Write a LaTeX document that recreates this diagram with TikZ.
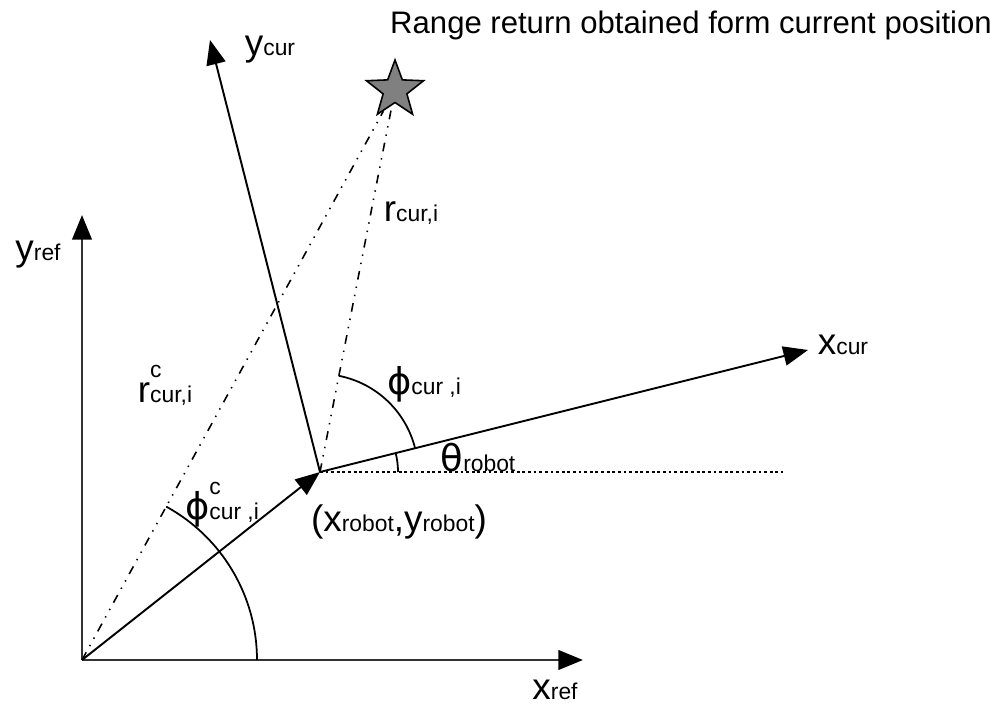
\documentclass[tikz,border=0pt]{standalone}
\usepackage{fontspec}
\setmainfont{Liberation Sans}
\newfontfamily\greekfont{DejaVu Sans}
\usetikzlibrary{arrows.meta,shapes.geometric,positioning}
\tikzset{
  axis/.style={-{Triangle[length=14pt,width=11pt]}, line width=1.1pt},
  ref axis/.style={-{Triangle[length=14pt,width=11pt,black]}, line width=1.7pt, draw=black!80},
  ray/.style={line width=0.9pt, dash pattern=on 5pt off 4pt on 0.8pt off 4pt on 0.8pt off 4pt},
  guide/.style={line width=1pt, dash pattern=on 1.6pt off 1.6pt},
  angle arc/.style={line width=1pt},
  lab/.style={font=\fontsize{21}{23}\selectfont, inner sep=1pt},
  target/.style={star, star points=5, star point ratio=2.4, minimum size=1.2cm,
    inner sep=0pt, draw, fill=gray, line width=0.9pt},
}
\newcommand{\sub}[1]{{\fontsize{13}{14}\selectfont #1}}
\newcommand{\gr}[1]{{\greekfont #1}}

\begin{document}
\begin{tikzpicture}[x=0.02cm, y=0.02cm]
  \useasboundingbox (0,0) rectangle (997,713);

  % Points
  \coordinate (O) at (82,53);
  \coordinate (xref) at (583,53);
  \coordinate (yref) at (82,498);
  \coordinate (R) at (320,241);
  \coordinate (xcur) at (808,363);
  \coordinate (ycur) at (210,673);
  \coordinate (hor) at (783,241);
  \node[target] (pt) at (395,623) {};

  % Reference frame
  \draw[ref axis] (O) -- (xref);
  \draw[ref axis] (O) -- (yref);

  % Rays to the return
  \draw[ray] (O) -- (pt);
  \draw[ray] (R) -- (pt);

  % Robot frame
  \draw[guide] (R) -- (hor);
  \draw[axis] (O) -- (R);
  \draw[axis] (R) -- (xcur);
  \draw[axis] (R) -- (ycur);

  % Angles
  \draw[angle arc] (O) ++(0:175) arc[start angle=0, end angle=61.23, radius=175];
  \draw[angle arc] (R) ++(14.04:98) arc[start angle=14.04, end angle=78.89, radius=98];
  \draw[angle arc] (R) ++(0:78) arc[start angle=0, end angle=14.04, radius=78];

  % Labels
  \node[lab] (lxref) at (555,23) {x\sub{ref}};
  \node[lab] (lyref) at (38,458) {y\sub{ref}};
  \node[lab] (lycur) at (270,663) {y\sub{cur}};
  \node[lab] (lxcur) at (843,368) {x\sub{cur}};
  \node[lab] (lr) at (411,500) {r\sub{cur,i}};
  \node[lab] (lrc) at (165,328) {r\makebox[0pt][l]{\raisebox{1.3ex}{\sub{c}}}\sub{cur,i}};
  \node[lab] (lphi) at (424,329) {\gr{ϕ}\sub{cur ,i}};
  \node[lab] (ltheta) at (478,255) {\gr{θ}\sub{robot}};
  \node[lab] (lphic) at (222,208) {\gr{ϕ}\makebox[0pt][l]{\raisebox{1.3ex}{\sub{c}}}\sub{cur ,i}};
  \node[lab] (lpos) at (399,191) {(x\sub{robot},y\sub{robot})};
  \node[font=\fontsize{17.7}{19}\selectfont, inner sep=0pt] (title) at (691,688)
    {Range return obtained form current position};
\end{tikzpicture}
\end{document}
